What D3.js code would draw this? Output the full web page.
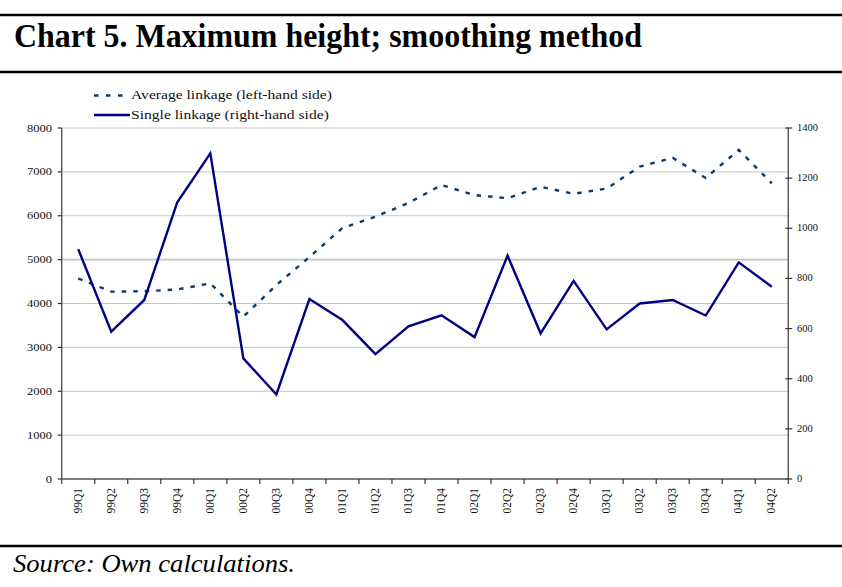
<!DOCTYPE html>
<html>
<head>
<meta charset="utf-8">
<script src="https://cdn.jsdelivr.net/npm/d3@7/dist/d3.min.js"></script>
<style>
  html, body { margin: 0; padding: 0; background: #fff; }
  svg { display: block; }
  text { font-family: "Liberation Serif", "Times New Roman", Tinos, serif; }
</style>
</head>
<body>
<svg id="chart" width="842" height="587"></svg>
<script>
// Quarterly categories
const quarters = ["99Q1","99Q2","99Q3","99Q4","00Q1","00Q2","00Q3","00Q4",
  "01Q1","01Q2","01Q3","01Q4","02Q1","02Q2","02Q3","02Q4",
  "03Q1","03Q2","03Q3","03Q4","04Q1","04Q2"];

// Average linkage, maximum height (left-hand scale)
const averageLinkage = [4570, 4270, 4280, 4320, 4460, 3700, 4420, 5060,
  5720, 5980, 6290, 6700, 6470, 6400, 6660, 6500,
  6620, 7120, 7320, 6860, 7500, 6740];

// Single linkage, maximum height (right-hand scale)
const singleLinkage = [917, 588, 714, 1104, 1299, 481, 337, 718,
  634, 498, 609, 653, 566, 891, 581, 790,
  597, 700, 714, 652, 864, 767];

const leftTicks = [0, 1000, 2000, 3000, 4000, 5000, 6000, 7000, 8000];
const rightTicks = [0, 200, 400, 600, 800, 1000, 1200, 1400];

const svg = d3.select("#chart");

// Page furniture: rules, title, source
const rule = (y, w) => svg.append("line")
  .attr("x1", 0).attr("x2", 842).attr("y1", y).attr("y2", y)
  .attr("stroke", "#000").attr("stroke-width", w);
rule(15, 2.6);
rule(72, 2.6);
rule(546, 2.4);

svg.append("text")
  .attr("x", 14).attr("y", 47)
  .attr("font-weight", "bold")
  .attr("font-size", 33)
  .attr("textLength", 628).attr("lengthAdjust", "spacingAndGlyphs")
  .text("Chart 5. Maximum height; smoothing method");

svg.append("text")
  .attr("x", 13).attr("y", 572)
  .attr("font-style", "italic")
  .attr("font-size", 25)
  .attr("textLength", 282).attr("lengthAdjust", "spacingAndGlyphs")
  .text("Source: Own calculations.");

// Plot geometry
const plotLeft = 61.7, plotRight = 788.3, plotTop = 128, plotBottom = 479;

const x = d3.scaleBand().domain(quarters).range([plotLeft, plotRight]).padding(0);
const yL = d3.scaleLinear().domain([0, 8000]).range([plotBottom, plotTop]);
const yR = d3.scaleLinear().domain([0, 1400]).range([plotBottom, plotTop]);
const cx = q => x(q) + x.bandwidth() / 2;

// Horizontal gridlines on the left-hand scale
svg.append("g").selectAll("line")
  .data(leftTicks.filter(d => d > 0))
  .join("line")
  .attr("x1", plotLeft).attr("x2", plotRight)
  .attr("y1", d => yL(d)).attr("y2", d => yL(d))
  .attr("stroke", "#c4c4c4")
  .attr("stroke-width", d => d === 5000 ? 1.6 : 1);

// Left axis
const gL = svg.append("g");
gL.append("line")
  .attr("x1", plotLeft).attr("x2", plotLeft)
  .attr("y1", plotTop).attr("y2", plotBottom)
  .attr("stroke", "#555").attr("stroke-width", 1.4);
gL.selectAll("line.tick").data(leftTicks).join("line")
  .attr("class", "tick")
  .attr("x1", plotLeft - 4).attr("x2", plotLeft)
  .attr("y1", d => yL(d)).attr("y2", d => yL(d))
  .attr("stroke", "#333").attr("stroke-width", 1.2);
gL.selectAll("text").data(leftTicks).join("text")
  .attr("transform", d => `translate(52,${yL(d) + 3.5}) scale(1.25,1)`)
  .attr("text-anchor", "end")
  .attr("font-size", 10)
  .attr("fill", "#111")
  .text(d => d);

// Right axis
const gR = svg.append("g");
gR.append("line")
  .attr("x1", plotRight).attr("x2", plotRight)
  .attr("y1", plotTop).attr("y2", plotBottom)
  .attr("stroke", "#555").attr("stroke-width", 1.4);
gR.selectAll("line.tick").data(rightTicks).join("line")
  .attr("class", "tick")
  .attr("x1", plotRight - 3).attr("x2", plotRight + 4)
  .attr("y1", d => yR(d)).attr("y2", d => yR(d))
  .attr("stroke", "#333").attr("stroke-width", 1.2);
gR.selectAll("text").data(rightTicks).join("text")
  .attr("transform", d => `translate(797,${yR(d) + 3}) scale(1.1,1)`)
  .attr("font-size", 9.5)
  .attr("fill", "#111")
  .text(d => d);

// Bottom axis with ticks at category boundaries
const gB = svg.append("g");
gB.append("line")
  .attr("x1", plotLeft).attr("x2", plotRight)
  .attr("y1", plotBottom).attr("y2", plotBottom)
  .attr("stroke", "#555").attr("stroke-width", 1.4);
const boundaries = quarters.map(q => x(q)).concat([plotRight]);
gB.selectAll("line.tick").data(boundaries).join("line")
  .attr("class", "tick")
  .attr("x1", d => d).attr("x2", d => d)
  .attr("y1", plotBottom).attr("y2", plotBottom + 5)
  .attr("stroke", "#333").attr("stroke-width", 1.2);
gB.selectAll("text").data(quarters).join("text")
  .attr("transform", q => `translate(${cx(q) + 3.5},488) rotate(-90)`)
  .attr("text-anchor", "end")
  .attr("font-size", 11.5)
  .attr("fill", "#111")
  .text(q => q);

// Series lines
const lineL = d3.line().x((d, i) => cx(quarters[i])).y(d => yL(d));
const lineR = d3.line().x((d, i) => cx(quarters[i])).y(d => yR(d));

svg.append("path")
  .attr("d", lineL(averageLinkage))
  .attr("fill", "none")
  .attr("stroke", "#0a3a6e").attr("stroke-width", 2.4)
  .attr("stroke-dasharray", "4.5,7");

svg.append("path")
  .attr("d", lineR(singleLinkage))
  .attr("fill", "none")
  .attr("stroke", "#000080").attr("stroke-width", 2.4)
  .attr("stroke-linejoin", "miter");

// Legend
const legend = svg.append("g");
legend.append("line")
  .attr("x1", 94).attr("x2", 124).attr("y1", 95.5).attr("y2", 95.5)
  .attr("stroke", "#0a3a6e").attr("stroke-width", 2.4)
  .attr("stroke-dasharray", "4.5,7.5");
legend.append("line")
  .attr("x1", 94).attr("x2", 130).attr("y1", 115).attr("y2", 115)
  .attr("stroke", "#000080").attr("stroke-width", 2.4);
legend.append("text")
  .attr("transform", "translate(131,99) scale(1.3,1)")
  .attr("font-size", 12)
  .attr("fill", "#111")
  .text("Average linkage (left-hand side)");
legend.append("text")
  .attr("transform", "translate(131,119) scale(1.3,1)")
  .attr("font-size", 12)
  .attr("fill", "#111")
  .text("Single linkage (right-hand side)");
</script>
</body>
</html>
